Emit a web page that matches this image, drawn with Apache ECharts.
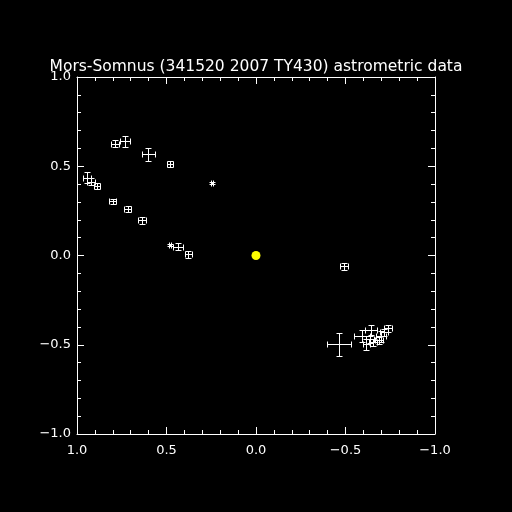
<!DOCTYPE html>
<html>
<head>
<meta charset="utf-8">
<script src="https://cdn.jsdelivr.net/npm/echarts@6/dist/echarts.min.js"></script>
<style>
html,body{margin:0;padding:0;background:#000;}
#c{width:512px;height:512px;}
</style>
</head>
<body>
<div id="c"></div>
<script>
// Offsets (same units on both axes)
const xVals = [0.788, 0.732, 0.602, 0.480, 0.247, 0.944, 0.922, 0.888, 0.801, 0.717, 0.637, 0.480, 0.434, 0.378,
  -0.492, -0.464, -0.737, -0.715, -0.642, -0.592, -0.698, -0.637, -0.654, -0.687, -0.615];
const yVals = [0.626, 0.639, 0.568, 0.514, 0.404, 0.436, 0.413, 0.391, 0.303, 0.261, 0.197, 0.058, 0.050, 0.006,
  -0.060, -0.497, -0.408, -0.430, -0.419, -0.453, -0.453, -0.469, -0.486, -0.475, -0.497];
const xErr = [0.020, 0.030, 0.037, 0.017, 0.006, 0.025, 0.020, 0.017, 0.020, 0.018, 0.020, 0.006, 0.028, 0.020,
  0.020, 0.065, 0.020, 0.020, 0.034, 0.045, 0.030, 0.020, 0.020, 0.020, 0.020];
const yErr = [0.020, 0.030, 0.037, 0.017, 0.006, 0.030, 0.020, 0.017, 0.012, 0.018, 0.020, 0.006, 0.020, 0.020,
  0.020, 0.065, 0.020, 0.020, 0.028, 0.034, 0.030, 0.020, 0.020, 0.020, 0.030];
const primary = [[0.0, 0.0]];
const tickLabels = {'1': '1.0', '0.5': '0.5', '0': '0.0', '-0.5': '\u22120.5', '-1': '\u22121.0'};
const titleText = 'Mors-Somnus (341520 2007 TY430) astrometric data';

const errData = xVals.map((x, i) => [x, yVals[i], xErr[i], yErr[i]]);
const FONT = 'DejaVu Sans';
const fmt = v => tickLabels[String(Math.round(v * 10) / 10)] || v.toFixed(1);

function axisBase(extra) {
  return Object.assign({
    type: 'value', min: -1, max: 1, interval: 0.5,
    axisLine: {show: true, onZero: false, lineStyle: {color: '#fff', width: 1}},
    axisTick: {show: true, inside: true, length: 7, lineStyle: {color: '#fff', width: 1}},
    minorTick: {show: true, splitNumber: 5, length: 4, lineStyle: {color: '#fff', width: 1}},
    splitLine: {show: false},
    minorSplitLine: {show: false},
    axisLabel: {show: true, color: '#fff', fontFamily: FONT, fontSize: 13, formatter: fmt}
  }, extra);
}

const cr = v => Math.round(v) + 0.5;
const CAP = 3;

function renderErr(params, api) {
  const x = api.value(0), y = api.value(1), ex = api.value(2), ey = api.value(3);
  const c = api.coord([x, y]);
  const l = api.coord([x + ex, y]);
  const r = api.coord([x - ex, y]);
  const t = api.coord([x, y + ey]);
  const b = api.coord([x, y - ey]);
  const cx = cr(c[0]), cy = cr(c[1]);
  const lx = cr(l[0]), rx = cr(r[0]), ty = cr(t[1]), by = cr(b[1]);
  const st = {stroke: '#fff', lineWidth: 1, fill: null};
  const line = (x1, y1, x2, y2) => ({type: 'line', shape: {x1, y1, x2, y2}, style: st});
  return {
    type: 'group',
    children: [
      line(lx, cy, rx, cy),
      line(cx, ty, cx, by),
      line(lx, cy - CAP, lx, cy + CAP),
      line(rx, cy - CAP, rx, cy + CAP),
      line(cx - CAP, ty, cx + CAP, ty),
      line(cx - CAP, by, cx + CAP, by)
    ]
  };
}

const chart = echarts.init(document.getElementById('c'), null, {renderer: 'canvas'});
chart.setOption({
  backgroundColor: '#000',
  animation: false,
  title: {
    text: titleText, left: 'center', top: 54,
    textStyle: {color: '#fff', fontFamily: FONT, fontSize: 15.5, fontWeight: 'normal'}
  },
  grid: {left: 77, right: 77, top: 77, bottom: 78, containLabel: false},
  xAxis: [
    axisBase({position: 'bottom', inverse: true, axisLabel: {show: true, color: '#fff', fontFamily: FONT, fontSize: 13, margin: 10, formatter: fmt}}),
    axisBase({position: 'top', inverse: true, axisLabel: {show: false}})
  ],
  yAxis: [
    axisBase({position: 'left', axisLabel: {show: true, color: '#fff', fontFamily: FONT, fontSize: 13, margin: 6, formatter: fmt}}),
    axisBase({position: 'right', axisLabel: {show: false}})
  ],
  series: [
    {
      type: 'custom', xAxisIndex: 0, yAxisIndex: 0,
      renderItem: renderErr,
      encode: {x: 0, y: 1},
      data: errData,
      clip: false
    },
    {
      type: 'scatter', xAxisIndex: 0, yAxisIndex: 0,
      symbol: 'circle', symbolSize: 9,
      itemStyle: {color: '#ffff00', opacity: 1},
      data: primary
    }
  ]
});
</script>
</body>
</html>
